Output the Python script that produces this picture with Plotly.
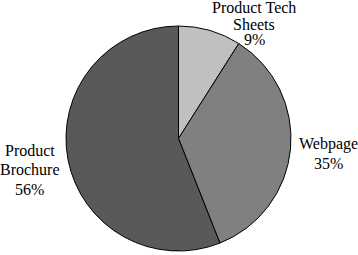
import plotly.graph_objects as go

labels = ["Product Tech Sheets", "Webpage", "Product Brochure"]
values = [9, 35, 56]
colors = ["#c0c0c0", "#808080", "#595959"]
label_lines = [["Product Tech", "Sheets", "9%"], ["Webpage", "35%"], ["Product", "Brochure", "56%"]]
label_x = [254, 328, 30]
label_y = [[7, 24, 39], [144, 163], [150, 169, 189]]

W, H = 358, 255

fig = go.Figure(go.Pie(
    labels=labels, values=values, sort=False, direction="clockwise", rotation=0,
    marker=dict(colors=colors, line=dict(color="black", width=1)),
    textinfo="none", hoverinfo="label+percent", showlegend=False,
    domain=dict(x=[66 / W, 291 / W], y=[1 - 251 / H, 1 - 26 / H]),
))

for lines, px, ys in zip(label_lines, label_x, label_y):
    for t, py in zip(lines, ys):
        fig.add_annotation(text=t, x=px / W, y=1 - py / H, xref="paper", yref="paper",
                           xanchor="center", yanchor="middle", showarrow=False,
                           font=dict(family="Liberation Serif", size=16, color="black"))

fig.update_layout(width=W, height=H, margin=dict(l=0, r=0, t=0, b=0),
                  paper_bgcolor="white", plot_bgcolor="white")
fig.write_html("out.html", config={"displayModeBar": False},
               post_script="document.body.style.margin='0';document.body.style.overflow='hidden';")
